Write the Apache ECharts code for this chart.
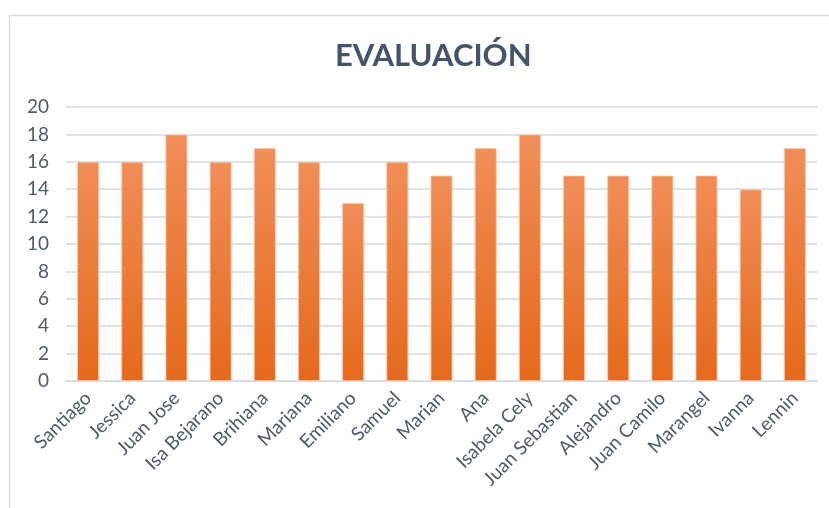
<!DOCTYPE html>
<html>
<head>
<meta charset="utf-8">
<script src="https://cdn.jsdelivr.net/npm/echarts@6/dist/echarts.min.js"></script>
<style>
  html, body { margin: 0; padding: 0; background: #fff; }
  #chart { width: 829px; height: 508px; }
</style>
</head>
<body>
<div id="chart"></div>
<script>
const names = ["Santiago", "Jessica", "Juan Jose", "Isa Bejarano", "Brihiana", "Mariana", "Emiliano",
  "Samuel", "Marian", "Ana", "Isabela Cely", "Juan Sebastian", "Alejandro", "Juan Camilo",
  "Marangel", "Ivanna", "Lennin"];
const scores = [16, 16, 18, 16, 17, 16, 13, 16, 15, 17, 18, 15, 15, 15, 15, 14, 17];
const yTicks = [0, 2, 4, 6, 8, 10, 12, 14, 16, 18, 20];

const myChart = echarts.init(document.getElementById("chart"));
myChart.setOption({
  animation: false,
  title: {
    text: "EVALUACIÓN",
    left: 330,
    top: 35,
    textStyle: {
      fontFamily: "Lato",
      fontWeight: "bold",
      fontSize: 31,
      color: "#44546A"
    }
  },
  graphic: [
    {
      type: "polyline",
      shape: { points: [[9.5, 508], [9.5, 15.5], [829, 15.5]] },
      style: { stroke: "#D9D9D9", lineWidth: 1.5, fill: null }
    }
  ],
  grid: {
    left: 66,
    right: 12,
    top: 107,
    bottom: 127
  },
  xAxis: {
    type: "category",
    data: names,
    axisLine: { show: true, lineStyle: { color: "#D9DDE4", width: 2 } },
    axisTick: { show: false },
    axisLabel: {
      rotate: 45,
      interval: 0,
      margin: 14,
      color: "#4D5A6E",
      fontFamily: "Lato",
      fontSize: 19
    }
  },
  yAxis: {
    type: "value",
    min: yTicks[0],
    max: yTicks[yTicks.length - 1],
    interval: 2,
    axisLine: { show: false },
    axisTick: { show: false },
    axisLabel: {
      margin: 17,
      color: "#4D5A6E",
      fontFamily: "Lato",
      fontSize: 19
    },
    splitLine: { lineStyle: { color: "#DDE1E8", width: 2 } }
  },
  series: [
    {
      type: "bar",
      data: scores,
      barWidth: "50%",
      itemStyle: {
        borderColor: "rgba(250,200,170,0.8)",
        borderWidth: 1,
        color: new echarts.graphic.LinearGradient(0, 0, 0, 1, [
          { offset: 0, color: "#F18E58" },
          { offset: 1, color: "#E5691B" }
        ])
      }
    }
  ]
});
</script>
</body>
</html>
